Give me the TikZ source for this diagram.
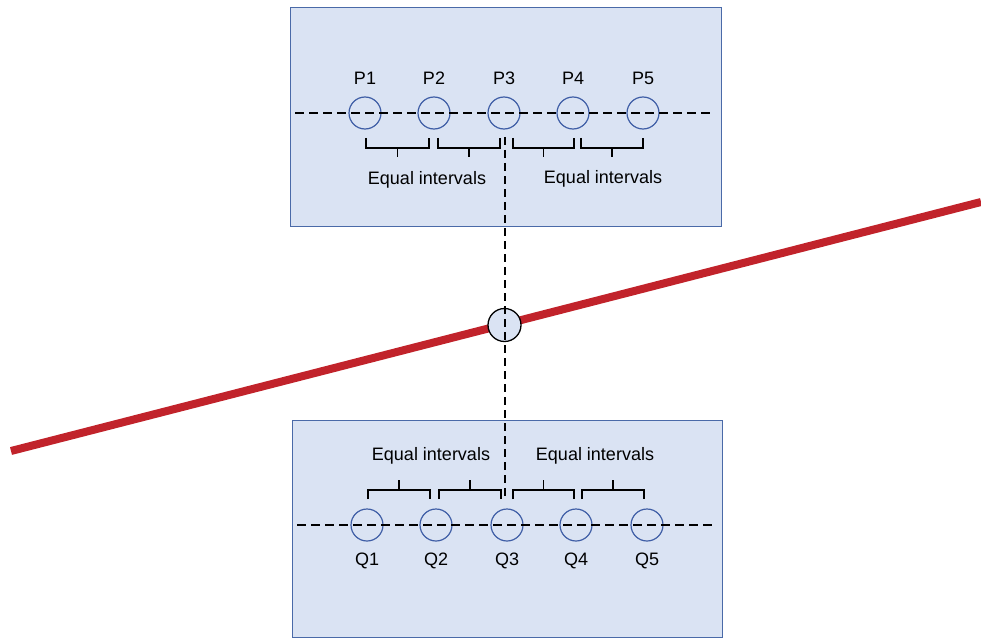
\documentclass[tikz,border=0pt]{standalone}
\usepackage{fontspec}
\setmainfont{Liberation Sans}
\definecolor{boxfill}{HTML}{DAE3F3}
\definecolor{boxline}{HTML}{4A6AA8}
\definecolor{ringline}{HTML}{3F5EA6}
\definecolor{redline}{HTML}{C1232B}
\begin{document}
\begin{tikzpicture}[x=1pt,y=-1pt,
  panel/.style={draw=boxline,fill=boxfill,line width=1.2pt},
  ring/.style={circle,draw=ringline,line width=1.2pt,minimum size=32pt,inner sep=0pt},
  lbl/.style={font=\fontsize{18}{21}\selectfont,inner sep=0pt},
  axis/.style={black,line width=1.1pt,dash pattern=on 9pt off 5pt},
  brace/.style={black,line width=1.3pt}]
\useasboundingbox (0,0) rectangle (981,639);
% panels
\node[panel,minimum width=431pt,minimum height=219pt,anchor=north west] (top) at (290,7) {};
\node[panel,minimum width=430pt,minimum height=217pt,anchor=north west] (bot) at (292,420) {};
% red line
\coordinate (rl) at (11,451);
\coordinate (rr) at (981,202);
\draw[redline,line width=8pt] (rl) -- (rr);
% center circle
\node[circle,draw=black,fill=boxfill,line width=1.3pt,minimum size=33pt,inner sep=0pt] (c) at (504.5,325) {};
% top circles
\foreach \i/\x in {1/365,2/434,3/504,4/573,5/643}{
  \node[ring] (P\i) at (\x,113) {};
  \node[lbl] (pl\i) at (\x,78) {P\i};
}
\coordinate (tl) at (295,113);
\coordinate (tr) at (712,113);
\draw[axis] (tl) -- (tr);
% bottom circles
\foreach \i/\x in {1/367,2/436,3/507,4/576,5/647}{
  \node[ring] (Q\i) at (\x,525) {};
  \node[lbl] (ql\i) at (\x,561) {Q\i};
}
\coordinate (bl) at (297,525);
\coordinate (br) at (713,525);
\draw[axis] (bl) -- (br);
% vertical dashed line
\coordinate (vt) at (505,137);
\coordinate (vb) at (505,498);
\draw[black,line width=1.1pt,dash pattern=on 8pt off 5pt] (vt) -- (vb);
% top brackets
\foreach \a/\b in {366/429,438/500,513/574,581/643}{
  \draw[brace] (\a,138) -- (\a,148) -- (\b,148) -- (\b,138);
  \draw[brace] ({(\a+\b)/2},148) -- ({(\a+\b)/2},157);
}
% bottom brackets
\foreach \a/\b in {368/430,439/501,513/574,582/644}{
  \draw[brace] (\a,499) -- (\a,490) -- (\b,490) -- (\b,499);
  \draw[brace] ({(\a+\b)/2},490) -- ({(\a+\b)/2},480);
}
% labels
\node[lbl] (e1) at (427,180) {Equal intervals};
\node[lbl] (e2) at (603,179) {Equal intervals};
\node[lbl] (e3) at (431,456) {Equal intervals};
\node[lbl] (e4) at (595,456) {Equal intervals};
\end{tikzpicture}
\end{document}
